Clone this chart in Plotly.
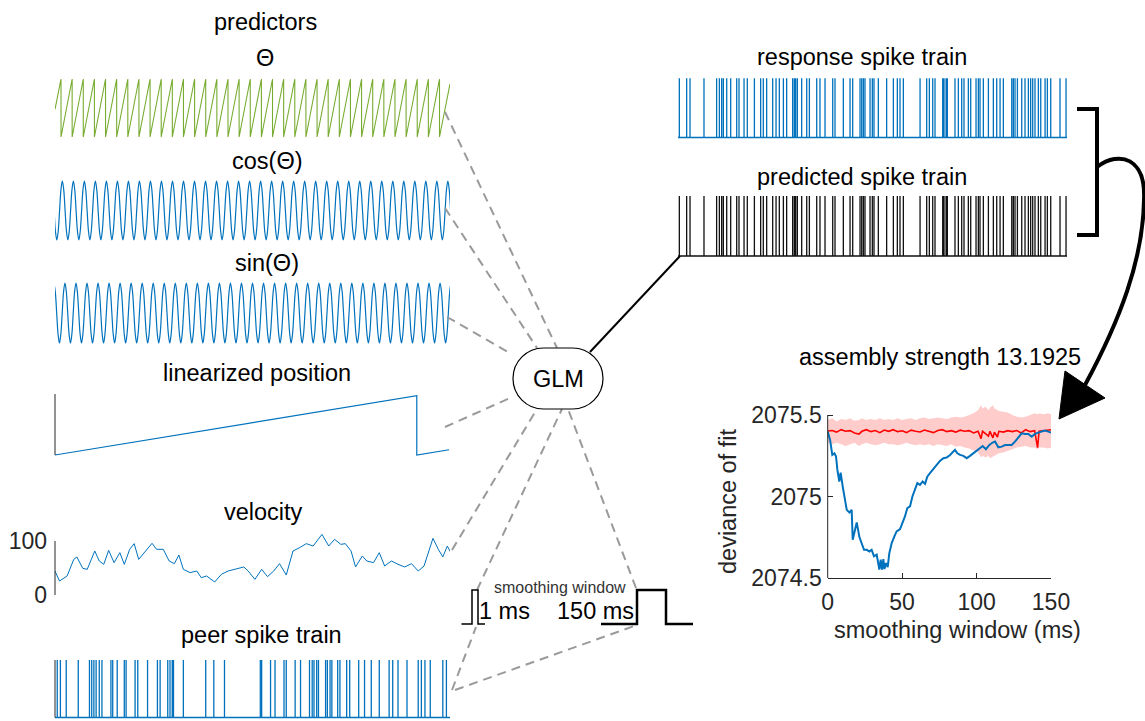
import math
import plotly.graph_objects as go

W, H = 1145, 721
FONT = "Liberation Sans, Arial, Helvetica, sans-serif"
BLUE = "#0072BD"
GREEN = "#77AC30"
RED = "#FF0000"
DASHGREY = "#9a9a9a"
AX = "#262626"

# ------------------------------------------------------------------ data
T_END = 4.4  # seconds shown in every time panel

# theta phase (rad): phase resets read from the sawtooth
theta_wrap_t = [0.067, 0.191, 0.315, 0.439, 0.563, 0.687, 0.811, 0.935, 1.059, 1.183,
                1.307, 1.431, 1.555, 1.679, 1.803, 1.927, 2.051, 2.175, 2.299, 2.423,
                2.547, 2.671, 2.795, 2.919, 3.043, 3.167, 3.291, 3.415, 3.539, 3.663,
                3.787, 3.911, 4.035, 4.159, 4.283]
theta_start_rad = 3.0
theta_end_rad = 5.75

# cos / sin panels: value of the oscillation at each eighth of a cycle, starting at a peak
osc_eighths = [1.0, 0.707, 0.0, -0.707, -1.0, -0.707, 0.0, 0.707]
cos_first_peak_t, cos_period_s = -0.041, 0.1227
sin_first_peak_t, sin_period_s = -0.012, 0.1229

# linearized position (cm)
linpos_t = [0.0, 4.03, 4.03, 4.39]
linpos_cm = [0.0, 180.0, 0.0, 16.0]

# running speed (cm/s)
velocity_t = [0, 0.050, 0.135, 0.209, 0.244, 0.309, 0.359, 0.443, 0.493, 0.543,
              0.598, 0.658, 0.722, 0.772, 0.832, 0.882, 0.932, 0.992, 1.081, 1.131,
              1.206, 1.271, 1.330, 1.380, 1.430, 1.505, 1.579, 1.629, 1.689, 1.779,
              1.853, 1.928, 2.003, 2.103, 2.152, 2.227, 2.302, 2.367, 2.436, 2.501,
              2.576, 2.651, 2.725, 2.800, 2.875, 2.974, 3.049, 3.114, 3.184, 3.234,
              3.298, 3.348, 3.423, 3.473, 3.548, 3.612, 3.672, 3.747, 3.821, 3.896,
              3.971, 4.046, 4.111, 4.210, 4.270, 4.320, 4.370, 4.410]
velocity_v = [44.4, 25.9, 35.2, 66.0, 70.4, 49.4, 47.5, 81.5, 63.0, 56.8,
              82.7, 59.9, 78.4, 56.8, 84.6, 95.1, 66.0, 78.4, 95.7, 84.6,
              84.6, 63.0, 58.0, 74.1, 47.5, 41.4, 44.4, 32.1, 35.2, 24.1,
              38.3, 44.4, 47.5, 51.9, 44.4, 29.0, 47.5, 34.0, 44.4, 58.0,
              37.0, 81.5, 87.7, 95.1, 90.7, 112.3, 90.7, 103.1, 93.8, 95.1,
              81.5, 51.9, 72.2, 63.0, 59.9, 78.4, 53.7, 63.0, 56.8, 51.9,
              58.0, 44.4, 53.7, 104.9, 84.6, 70.4, 90.7, 78.4]
velocity_ticks = [0, 100]

# spike times (s)
peer_spikes_t = [0.025, 0.060, 0.125, 0.259, 0.384, 0.409, 0.433, 0.458, 0.493, 0.523,
                 0.623, 0.643, 0.693, 0.772, 0.792, 0.892, 0.922, 1.031, 1.141, 1.171,
                 1.256, 1.281, 1.306, 1.320, 1.430, 1.679, 1.769, 1.888, 2.287, 2.302,
                 2.401, 2.451, 2.551, 2.576, 2.675, 2.735, 2.835, 2.865, 2.885, 2.915,
                 2.935, 3.014, 3.034, 3.064, 3.084, 3.149, 3.174, 3.249, 3.283, 3.383,
                 3.448, 3.523, 3.612, 3.722, 3.762, 3.821, 3.921, 4.046, 4.081, 4.121,
                 4.180, 4.320, 4.360]
response_spikes_t = [0.015, 0.098, 0.136, 0.294, 0.437, 0.468, 0.494, 0.513, 0.551, 0.596,
                     0.664, 0.690, 0.747, 0.784, 0.864, 0.935, 0.965, 1.003, 1.071, 1.109,
                     1.146, 1.192, 1.229, 1.297, 1.316, 1.331, 1.350, 1.399, 1.456, 1.486,
                     1.569, 1.606, 1.663, 1.750, 1.776, 1.870, 1.946, 1.976, 2.059, 2.078,
                     2.097, 2.115, 2.172, 2.198, 2.217, 2.266, 2.360, 2.436, 2.481, 2.511,
                     2.549, 2.738, 2.813, 2.843, 2.881, 2.907, 2.994, 3.009, 3.032, 3.047,
                     3.133, 3.171, 3.209, 3.235, 3.284, 3.311, 3.371, 3.397, 3.416, 3.454,
                     3.511, 3.567, 3.605, 3.643, 3.680, 3.775, 3.793, 3.812, 3.839, 3.888,
                     3.925, 3.963, 3.989, 4.012, 4.038, 4.076, 4.103, 4.152, 4.178, 4.216,
                     4.321, 4.389]
predicted_spikes_t = [0.015, 0.098, 0.136, 0.294, 0.437, 0.468, 0.494, 0.513, 0.551, 0.596,
                      0.664, 0.690, 0.747, 0.784, 0.864, 0.935, 0.965, 1.003, 1.071, 1.109,
                      1.146, 1.192, 1.229, 1.297, 1.316, 1.331, 1.350, 1.399, 1.456, 1.486,
                      1.569, 1.606, 1.663, 1.750, 1.776, 1.870, 1.946, 1.976, 2.059, 2.078,
                      2.097, 2.115, 2.172, 2.198, 2.217, 2.266, 2.360, 2.436, 2.481, 2.511,
                      2.549, 2.738, 2.813, 2.843, 2.881, 2.907, 2.994, 3.009, 3.032, 3.047,
                      3.133, 3.171, 3.209, 3.235, 3.284, 3.311, 3.371, 3.397, 3.416, 3.454,
                      3.511, 3.567, 3.605, 3.643, 3.680, 3.775, 3.793, 3.812, 3.839, 3.888,
                      3.925, 3.963, 3.989, 4.012, 4.038, 4.076, 4.103, 4.152, 4.178, 4.216,
                      4.321, 4.389]

# deviance of fit vs smoothing window
dev_window_ms = [0, 1.6, 3.1, 4.5, 5.6, 6.5, 7.8, 8.7, 10.1, 11.6, 12.8, 14.6, 16.1, 16.8,
                 18.4, 19.5, 21.3, 22.8, 24.4, 26.2, 28, 29.5, 31.1, 32.9, 34.7, 35.6, 36.5,
                 37.4, 38.1, 39.2, 40.3, 41.4, 43, 44.8, 46.3, 48.6, 50.4, 51.9, 53.5, 55.3,
                 56.9, 58.7, 60.2, 62, 63.8, 65.4, 66.9, 68.7, 70.5, 72.1, 73.6, 75.4, 77.7,
                 79.9, 82.2, 84, 85.5, 87.1, 88.9, 91.1, 93.4, 95.6, 97.8, 99.6, 101.9, 104.1,
                 106.3, 108.6, 110.8, 112.4, 114.6, 116.9, 119.1, 121.3, 123.6, 125.8, 128.1,
                 130.3, 132.5, 134.8, 137, 139.2, 141.5, 143.7, 145.9, 148.2, 150]
dev_actual = [2075.398, 2075.347, 2075.255, 2075.265, 2075.245, 2075.163, 2075.092, 2075.147,
              2075.061, 2074.980, 2074.918, 2074.902, 2074.918, 2074.735, 2074.796, 2074.841,
              2074.751, 2074.714, 2074.673, 2074.673, 2074.663, 2074.673, 2074.633, 2074.643,
              2074.551, 2074.612, 2074.551, 2074.616, 2074.555, 2074.592, 2074.567, 2074.653,
              2074.714, 2074.755, 2074.786, 2074.800, 2074.837, 2074.878, 2074.929, 2074.939,
              2075.000, 2075.051, 2075.082, 2075.071, 2075.092, 2075.078, 2075.122, 2075.143,
              2075.163, 2075.184, 2075.194, 2075.218, 2075.235, 2075.239, 2075.255, 2075.269,
              2075.286, 2075.265, 2075.255, 2075.249, 2075.235, 2075.249, 2075.265, 2075.276,
              2075.296, 2075.310, 2075.290, 2075.316, 2075.331, 2075.337, 2075.302, 2075.306,
              2075.316, 2075.316, 2075.316, 2075.337, 2075.367, 2075.388, 2075.384, 2075.384,
              2075.367, 2075.384, 2075.392, 2075.398, 2075.404, 2075.398, 2075.392]
shuffle_ms = [0, 3, 6, 9, 12, 15, 18, 21, 23, 26, 29, 32, 35, 38, 41, 44, 47, 50, 53, 56,
              59, 62, 65, 68, 71, 74, 77, 80, 83, 86, 89, 92, 95, 98, 101, 103, 104, 106, 108, 109,
              111, 112, 114, 115, 118, 121, 124, 127, 130, 133, 136, 139, 141, 142, 145, 148, 150]
shuffle_mean = [2075.402, 2075.405, 2075.395, 2075.41, 2075.400, 2075.404, 2075.39, 2075.383, 2075.40, 2075.41,
                2075.398, 2075.405, 2075.392, 2075.408, 2075.40, 2075.41, 2075.398, 2075.403, 2075.392, 2075.407,
                2075.40, 2075.396, 2075.408, 2075.40, 2075.392, 2075.405, 2075.41, 2075.398, 2075.404, 2075.395,
                2075.407, 2075.40, 2075.404, 2075.39, 2075.40, 2075.355, 2075.40, 2075.385, 2075.37, 2075.40,
                2075.36, 2075.395, 2075.365, 2075.40, 2075.395, 2075.404, 2075.398, 2075.405, 2075.39, 2075.41,
                2075.398, 2075.404, 2075.30, 2075.40, 2075.405, 2075.41, 2075.41]
shuffle_upper = [2075.47, 2075.48, 2075.46, 2075.475, 2075.47, 2075.48, 2075.465, 2075.47, 2075.48, 2075.47,
                 2075.475, 2075.47, 2075.48, 2075.47, 2075.475, 2075.47, 2075.48, 2075.47, 2075.475, 2075.48,
                 2075.47, 2075.48, 2075.485, 2075.475, 2075.48, 2075.485, 2075.48, 2075.475, 2075.485, 2075.49,
                 2075.485, 2075.49, 2075.50, 2075.51, 2075.53, 2075.56, 2075.54, 2075.55, 2075.53, 2075.545,
                 2075.56, 2075.54, 2075.53, 2075.525, 2075.52, 2075.515, 2075.50, 2075.49, 2075.485, 2075.49,
                 2075.50, 2075.51, 2075.505, 2075.51, 2075.505, 2075.51, 2075.505]
shuffle_lower = [2075.33, 2075.32, 2075.33, 2075.32, 2075.31, 2075.32, 2075.33, 2075.31, 2075.32, 2075.33,
                 2075.32, 2075.315, 2075.32, 2075.33, 2075.32, 2075.32, 2075.315, 2075.32, 2075.33, 2075.32,
                 2075.315, 2075.32, 2075.315, 2075.32, 2075.31, 2075.32, 2075.315, 2075.31, 2075.32, 2075.305,
                 2075.31, 2075.30, 2075.295, 2075.285, 2075.27, 2075.24, 2075.25, 2075.24, 2075.25, 2075.235,
                 2075.24, 2075.25, 2075.26, 2075.265, 2075.27, 2075.28, 2075.29, 2075.30, 2075.305, 2075.31,
                 2075.30, 2075.30, 2075.29, 2075.30, 2075.30, 2075.295, 2075.30]
dev_xticks = [0, 50, 100, 150]
dev_yticks = [2074.5, 2075, 2075.5]
dev_yticktext = ["2074.5", "2075", "2075.5"]

# ------------------------------------------------------------------ helpers
def px(x):
    return x / W


def py(y):
    return 1 - y / H


def names(i):
    s = "" if i == 1 else str(i)
    return "xaxis" + s, "yaxis" + s, "x" + s, "y" + s


def yrange(va, pa, vb, pb, top, bottom):
    k = (vb - va) / (pb - pa)
    return [va + (bottom - pa) * k, va + (top - pa) * k]


layout = {}


def panel(i, left, right, top, bottom, xr, yr):
    xa, ya, xn, yn = names(i)
    layout[xa] = dict(domain=[left / W, right / W], range=xr, visible=False, automargin=False,
                      anchor=yn, fixedrange=True, showgrid=False, zeroline=False)
    layout[ya] = dict(domain=[1 - bottom / H, 1 - top / H], range=yr, visible=False, automargin=False,
                      anchor=xn, fixedrange=True, showgrid=False, zeroline=False)
    return xn, yn


def spike_path(times):
    xs, ys = [0.0], [0.0]
    for t in times:
        xs += [t, t, t]
        ys += [0, 1, 0]
    xs.append(T_END)
    ys.append(0)
    return xs, ys


def osc_knots(t_peak, period):
    step = period / 8
    xs, ys, k = [], [], 0
    while True:
        t = t_peak + k * step
        xs.append(t)
        ys.append(osc_eighths[k % 8])
        if t > T_END + step:
            break
        k += 1
    return xs, ys


fig = go.Figure()
shapes = []
annotations = []

# ---- theta
r_theta = yrange(0, 137, 2 * math.pi, 79, 74, 142)
xn, yn = panel(1, 55, 450, 74, 142, [0, T_END], r_theta)
th_x, th_y = [0.0], [theta_start_rad]
for w in theta_wrap_t:
    th_x += [w, w]
    th_y += [2 * math.pi, 0.0]
th_x.append(T_END)
th_y.append(theta_end_rad)
fig.add_trace(go.Scatter(x=th_x, y=th_y, mode="lines", line=dict(color=GREEN, width=1.1),
                         xaxis=xn, yaxis=yn, hoverinfo="skip"))

# ---- cos
xn, yn = panel(2, 55, 450, 176, 245, [0, T_END], yrange(-1, 240, 1, 181, 176, 245))
cx, cy = osc_knots(cos_first_peak_t, cos_period_s)
fig.add_trace(go.Scatter(x=cx, y=cy, mode="lines", line=dict(color=BLUE, width=1.2, shape="spline", smoothing=1),
                         xaxis=xn, yaxis=yn, hoverinfo="skip"))

# ---- sin
xn, yn = panel(3, 55, 450, 278, 348, [0, T_END], yrange(-1, 343, 1, 283, 278, 348))
sx, sy = osc_knots(sin_first_peak_t, sin_period_s)
fig.add_trace(go.Scatter(x=sx, y=sy, mode="lines", line=dict(color=BLUE, width=1.2, shape="spline", smoothing=1),
                         xaxis=xn, yaxis=yn, hoverinfo="skip"))

# ---- linearized position
r_lp = yrange(0, 455, 180, 395.7, 390, 460)
xn, yn = panel(4, 55, 450, 390, 460, [0, T_END], r_lp)
fig.add_trace(go.Scatter(x=linpos_t, y=linpos_cm, mode="lines", line=dict(color=BLUE, width=1.2),
                         xaxis=xn, yaxis=yn, hoverinfo="skip"))
lp_top = 0 + (455 - 394) * 180 / 59.3
shapes.append(dict(type="line", xref="x4 domain", yref="y4 domain", x0=0, x1=0,
                   y0=(0 - r_lp[0]) / (r_lp[1] - r_lp[0]), y1=(lp_top - r_lp[0]) / (r_lp[1] - r_lp[0]),
                   line=dict(color=AX, width=1)))

# ---- velocity
r_v = yrange(0, 595, 100, 541, 525, 600)
xn, yn = panel(5, 55, 450, 525, 600, [0, T_END], r_v)
layout["yaxis5"].update(visible=True, showline=False, ticks="", tickvals=velocity_ticks,
                        ticktext=[str(v) for v in velocity_ticks], ticklabelstandoff=7,
                        tickfont=dict(family=FONT, size=23, color=AX))
fig.add_trace(go.Scatter(x=velocity_t, y=velocity_v, mode="lines", line=dict(color=BLUE, width=1),
                         xaxis=xn, yaxis=yn, hoverinfo="skip"))
shapes.append(dict(type="line", xref="x5 domain", yref="y5 domain", x0=0, x1=0,
                   y0=(0 - r_v[0]) / (r_v[1] - r_v[0]), y1=(100 - r_v[0]) / (r_v[1] - r_v[0]),
                   line=dict(color=AX, width=1)))

# ---- peer spike train
r_p = yrange(0, 717.5, 1, 660, 655, 721)
xn, yn = panel(6, 55, 450, 655, 721, [0, T_END], r_p)
pxs, pys = spike_path(peer_spikes_t)
fig.add_trace(go.Scatter(x=pxs, y=pys, mode="lines", line=dict(color=BLUE, width=1.3),
                         xaxis=xn, yaxis=yn, hoverinfo="skip"))
shapes.append(dict(type="line", xref="x6 domain", yref="y6 domain", x0=0, x1=0,
                   y0=(0 - r_p[0]) / (r_p[1] - r_p[0]), y1=(1 - r_p[0]) / (r_p[1] - r_p[0]),
                   line=dict(color=AX, width=1)))

# ---- response spike train
xn, yn = panel(7, 678, 1067, 74, 141, [0, T_END], yrange(0, 137.5, 1, 78.3, 74, 141))
rxs, rys = spike_path(response_spikes_t)
fig.add_trace(go.Scatter(x=rxs, y=rys, mode="lines", line=dict(color=BLUE, width=1.3),
                         xaxis=xn, yaxis=yn, hoverinfo="skip"))

# ---- predicted spike train
xn, yn = panel(8, 678, 1067, 192, 259, [0, T_END], yrange(0, 256, 1, 196, 192, 259))
qxs, qys = spike_path(predicted_spikes_t)
fig.add_trace(go.Scatter(x=qxs, y=qys, mode="lines", line=dict(color="#111111", width=1.3),
                         xaxis=xn, yaxis=yn, hoverinfo="skip"))

# ---- deviance panel
r_d = yrange(2074.5, 578, 2075.5, 415, 400, 578)
xn, yn = panel(9, 827.7, 1051, 400, 578, [0, 150], r_d)
tickfont = dict(family=FONT, size=23, color=AX)
layout["xaxis9"].update(visible=True, showline=True, linecolor=AX, linewidth=1, ticks="inside",
                        ticklen=5, tickwidth=1, tickcolor=AX, tickvals=dev_xticks,
                        ticktext=[str(v) for v in dev_xticks], tickfont=tickfont, ticklabelstandoff=3)
layout["yaxis9"].update(visible=True, showline=False, ticks="inside", ticklen=5, tickwidth=1,
                        tickcolor=AX, tickvals=dev_yticks, ticktext=dev_yticktext,
                        tickfont=tickfont, ticklabelstandoff=5)
fig.add_trace(go.Scatter(x=shuffle_ms + shuffle_ms[::-1], y=shuffle_upper + shuffle_lower[::-1],
                         mode="lines", fill="toself", fillcolor="rgba(255,0,0,0.2)",
                         line=dict(width=0), xaxis=xn, yaxis=yn, hoverinfo="skip"))
fig.add_trace(go.Scatter(x=shuffle_ms, y=shuffle_mean, mode="lines", line=dict(color=RED, width=1.6),
                         xaxis=xn, yaxis=yn, hoverinfo="skip"))
fig.add_trace(go.Scatter(x=dev_window_ms, y=dev_actual, mode="lines", line=dict(color=BLUE, width=2),
                         xaxis=xn, yaxis=yn, hoverinfo="skip"))
shapes.append(dict(type="line", xref="x9 domain", yref="y9 domain", x0=0, x1=0,
                   y0=0, y1=(2075.5 - r_d[0]) / (r_d[1] - r_d[0]), line=dict(color=AX, width=1)))

# ------------------------------------------------------------------ diagram decorations
def seg(x0, y0, x1, y1, color, width, dash=None):
    ln = dict(color=color, width=width)
    if dash:
        ln["dash"] = dash
    shapes.append(dict(type="line", xref="paper", yref="paper", x0=px(x0), y0=py(y0),
                       x1=px(x1), y1=py(y1), line=ln))


def P(x, y):
    return f"{px(x):.5f},{py(y):.5f}"


def path(d, color, width, fill=None):
    s = dict(type="path", xref="paper", yref="paper", path=d, line=dict(color=color, width=width))
    if fill:
        s["fillcolor"] = fill
    shapes.append(s)


def polyline(pts, close=False):
    d = "M" + P(*pts[0]) + "".join("L" + P(x, y) for x, y in pts[1:])
    return d + ("Z" if close else "")


DASH = "9px,6px"
for (x0, y0, x1, y1) in [(445, 112, 557, 348), (445, 208, 537, 348), (447, 317, 508, 352),
                         (445, 427, 510, 398), (452, 550, 537, 409), (477, 590, 562, 409),
                         (636, 588, 568, 409), (452, 690, 476, 627), (455, 690, 637, 625)]:
    seg(x0, y0, x1, y1, DASHGREY, 2, DASH)

# GLM rounded box
gx0, gx1, gy0, gy1 = 513, 603, 348, 409
r = (gy1 - gy0) / 2
k = 0.5523 * r
cl, cr, cyy = gx0 + r, gx1 - r, (gy0 + gy1) / 2
glm = ("M" + P(cl, gy0) + "L" + P(cr, gy0)
       + "C" + P(cr + k, gy0) + " " + P(gx1, cyy - k) + " " + P(gx1, cyy)
       + "C" + P(gx1, cyy + k) + " " + P(cr + k, gy1) + " " + P(cr, gy1)
       + "L" + P(cl, gy1)
       + "C" + P(cl - k, gy1) + " " + P(gx0, cyy + k) + " " + P(gx0, cyy)
       + "C" + P(gx0, cyy - k) + " " + P(cl - k, gy0) + " " + P(cl, gy0) + "Z")
path(glm, "black", 1.2, fill="white")

# GLM -> predicted spike train
seg(590, 352, 680, 256, "black", 2)

# smoothing window kernels
path(polyline([(461.5, 624), (472, 624), (472, 590), (478, 590), (478, 624), (485, 624)]), "black", 1.5)
path(polyline([(601, 624), (637, 624), (637, 590), (666, 590), (666, 624), (693, 624)]), "black", 2.5)

# bracket and curved arrow
path(polyline([(1077, 109), (1097, 109), (1097, 235), (1077, 235)]), "black", 4)
curve = ("M" + P(1097, 167)
         + "C" + P(1120, 150) + " " + P(1146, 158) + " " + P(1144, 200)
         + "C" + P(1143, 260) + " " + P(1120, 320) + " " + P(1085, 385))
path(curve, "black", 4)
path(polyline([(1059, 419), (1065, 371), (1105, 398)], close=True), "black", 1, fill="black")


# ------------------------------------------------------------------ texts
def text(x, y, s, size=23.5, color="black", angle=0):
    annotations.append(dict(xref="paper", yref="paper", x=px(x), y=py(y), text=s, showarrow=False,
                            font=dict(family=FONT, size=size, color=color), xanchor="center",
                            yanchor="middle", textangle=angle))


text(265, 22, "predictors")
text(265, 58, "Θ")
text(267, 161, "cos(Θ)")
text(267, 263, "sin(Θ)")
text(257, 373, "linearized position")
text(263, 512, "velocity")
text(261, 635, "peer spike train")
text(862, 57, "response spike train")
text(862, 177, "predicted spike train")
text(940, 357, "assembly strength 13.1925")
text(558, 379, "GLM")
text(560, 587, "smoothing window", size=16, color="#333333")
text(505, 611, "1 ms")
text(596, 611, "150 ms")
text(728, 502, "deviance of fit", color=AX, angle=-90)
text(957, 630, "smoothing window (ms)", color=AX)

fig.update_layout(**layout)
fig.update_layout(width=W, height=H, autosize=False, margin=dict(l=0, r=0, t=0, b=0, pad=0, autoexpand=False),
                  paper_bgcolor="white", plot_bgcolor="rgba(0,0,0,0)", showlegend=False,
                  shapes=shapes, annotations=annotations,
                  font=dict(family=FONT, color="black"))
fig.write_html("out.html")
